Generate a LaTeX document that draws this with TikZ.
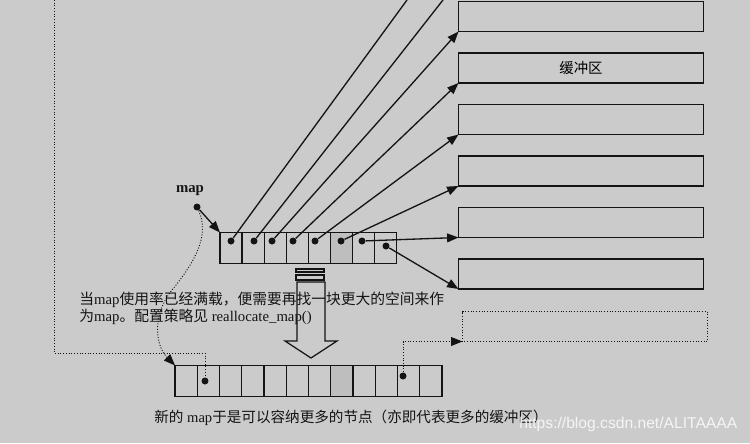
\documentclass[tikz,border=0pt]{standalone}
\usepackage{fontspec}
\setmainfont{Liberation Serif}
\setsansfont{Liberation Sans}
\newfontfamily\cjk{Noto Sans CJK SC}
\usetikzlibrary{arrows.meta,calc}
\definecolor{paper}{RGB}{203,203,203}
\definecolor{ink}{RGB}{20,20,20}
\definecolor{stip}{RGB}{190,190,190}
\tikzset{cell/.style={draw=ink,line width=0.75pt,minimum width=0.443cm,minimum height=0.62cm,inner sep=0pt,outer sep=0pt},
  buffer/.style={draw=ink,line width=0.75pt,minimum width=4.9cm,minimum height=0.6cm,inner sep=0pt,outer sep=0pt,font=\fontsize{8.2}{10}\selectfont\cjk},
  ptrdot/.style={circle,fill=ink,inner sep=0pt,minimum size=0.14cm},
  ptr/.style={-{Triangle[length=6.5pt,width=5pt]},line width=0.75pt,ink},
  link/.style={line width=0.75pt,ink},
  dotline/.style={densely dotted,line width=0.55pt,ink},
  dotptr/.style={dotline,-{Triangle[length=6.5pt,width=5pt]}},
  note/.style={font=\fontsize{8.4}{10}\selectfont,text=ink,inner sep=0pt,anchor=west},
  wmark/.style={font=\sffamily\fontsize{8.9}{10}\selectfont,text=white!80!paper,inner sep=0pt,anchor=west}}

\begin{document}
\begin{tikzpicture}[x=0.02cm,y=-0.02cm]
\useasboundingbox (0,0) rectangle (750,443);
\fill[paper] (0,0) rectangle (750,443);
\clip (0,0) rectangle (750,443);

% buffers
\foreach \i in {1,...,6}
  \node[buffer] (b\i) at (581,{16.5+51.5*(\i-1)}) {};
\node at (b2) {\fontsize{8.2}{10}\selectfont\cjk 缓冲区};
\node[buffer,draw=none] (nb) at (585,326.5) {};
\draw[dotline] (nb.south west) rectangle (nb.north east);

% old map
\foreach \i in {1,...,8}
  \node[cell] (m\i) at ({220+22.1*(\i-0.5)},248) {};
\fill[stip] (m6.south west) rectangle (m6.north east);
\draw[ink,line width=0.75pt] (m6.south west) rectangle (m6.north east);
\foreach \i/\x/\y in {1/231/241,2/254/241,3/272/241,4/293/241,5/315/241,6/341/241,7/362/241,8/386/246}
  \node[ptrdot] (d\i) at (\x,\y) {};

\coordinate (up1) at (407,0);
\coordinate (up2) at (443,0);
\draw[link] (d1) -- (up1);
\draw[link] (d2) -- (up2);
\draw[ptr] (d3) -- (b1.south west);
\draw[ptr] (d4) -- (b2.south west);
\draw[ptr] (d5) -- (b3.south west);
\draw[ptr] (d6) -- (b4.south west);
\draw[ptr] (d7) -- (b5.south west);
\draw[ptr] (d8) -- (b6.south west);

\node[font=\bfseries\fontsize{8.4}{10}\selectfont,text=ink,inner sep=0pt] (maplbl) at (190,191) {map};
\node[ptrdot] (mapdot) at (197,207) {};
\draw[ptr] (mapdot) -- (m1.north west);

% big arrow
\draw[ink,line width=0.7pt] (296,269) rectangle (324,272);
\draw[ink,line width=0.7pt] (296,275) rectangle (324,280);
\draw[ink,line width=0.7pt,fill=paper] (297,282) -- (297,341) -- (285,341) -- (311,358)
  -- (337,341) -- (325,341) -- (325,282) -- cycle;

% new map
\foreach \i in {1,...,12}
  \node[cell] (n\i) at ({175+22.25*(\i-0.5)},381) {};
\fill[stip] (n8.south west) rectangle (n8.north east);
\draw[ink,line width=0.75pt] (n8.south west) rectangle (n8.north east);
\node[ptrdot] (nd2) at (205,381) {};
\node[ptrdot] (nd11) at (403,376) {};

\coordinate (top) at (54,0);
\draw[dotline] (top) |- ($(nd2)+(0,-28)$) -- (nd2);
\draw[dotptr] (nd11) |- (nb.south west);
\draw[dotptr] (mapdot) .. controls (210,235) and (195,262) .. (172,290)
  .. controls (152,315) and (155,345) .. (n1.north west);

% texts
\node[note] (note1) at (79,300) {{\cjk 当}map{\cjk 使用率已经满载，便需要再找一块更大的空间来作}};
\node[note] (note2) at (79,317) {{\cjk 为}map{\cjk 。配置策略见} reallocate\_map()};
\node[note,font=\fontsize{8.3}{10}\selectfont] (caption) at (154,418) {{\cjk 新的} map{\cjk 于是可以容纳更多的节点（亦即代表更多的缓冲区）}};
\node[wmark] (url) at (519,424) {https://blog.csdn.net/ALITAAAA};
\end{tikzpicture}
\end{document}
